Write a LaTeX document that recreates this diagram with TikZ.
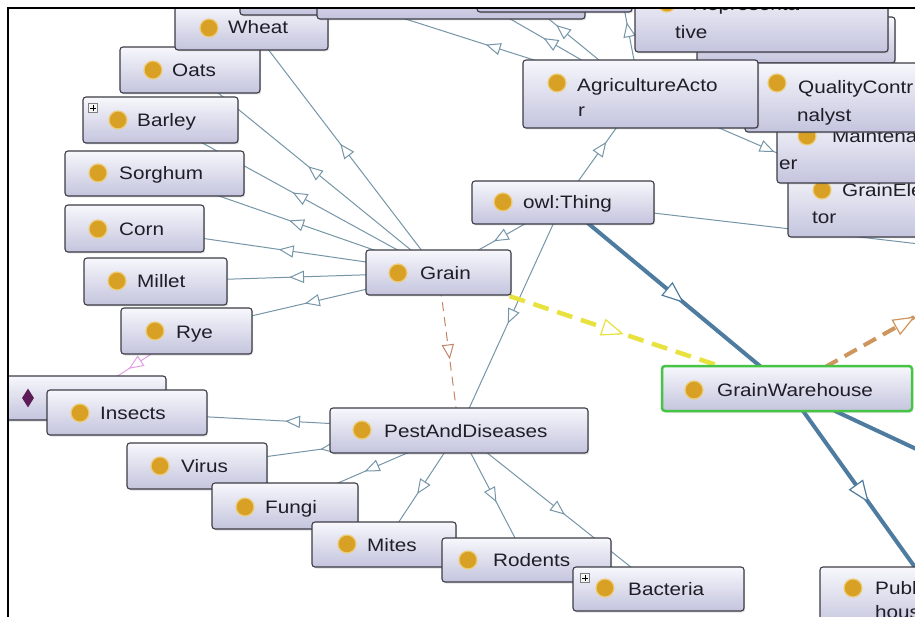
\documentclass[tikz,border=0pt]{standalone}
\usepackage{fontspec}
\setmainfont{Liberation Sans}[FakeStretch=1.15]
\usetikzlibrary{shadows,shapes.geometric,decorations.markings}
\pgfdeclarelayer{background}
\pgfsetlayers{background,main}

\definecolor{boxtop}{RGB}{247,247,252}
\definecolor{boxbot}{RGB}{196,196,222}
\definecolor{boxedge}{RGB}{60,60,70}
\definecolor{edgec}{RGB}{118,150,168}
\definecolor{thickc}{RGB}{78,124,160}
\definecolor{yellc}{RGB}{232,226,62}
\definecolor{orc}{RGB}{206,150,92}
\definecolor{brc}{RGB}{196,132,104}
\definecolor{pkc}{RGB}{226,160,226}
\definecolor{dotc}{RGB}{216,160,36}
\definecolor{dotring}{RGB}{236,204,120}
\definecolor{txtc}{RGB}{30,30,40}
\definecolor{greenc}{RGB}{70,196,70}
\definecolor{diac}{RGB}{92,28,88}

\tikzset{
  cls/.style={draw=boxedge, line width=1.1pt, rounded corners=3pt,
    top color=boxtop, bottom color=boxbot, inner sep=0pt,
    drop shadow={shadow xshift=1.2pt, shadow yshift=-1.5pt, opacity=0.25}},
  sel/.style={cls, draw=greenc, line width=2.5pt},
  dotn/.style={circle, fill=dotc, draw=dotring, line width=1.2pt,
    minimum size=18pt, inner sep=0pt},
  lbl/.style={anchor=base west, inner sep=0pt, text=txtc,
    font=\fontsize{18}{25}\selectfont},
  plusbox/.style={rectangle, draw=gray, fill=white!92!gray, line width=0.6pt,
    minimum size=9pt, inner sep=0pt,
    path picture={
      \draw[black, line width=0.8pt]
        ([xshift=-2.6pt]path picture bounding box.center) --
        ([xshift=2.6pt]path picture bounding box.center)
        ([yshift=-2.6pt]path picture bounding box.center) --
        ([yshift=2.6pt]path picture bounding box.center);}},
  % thin subclass link with an open triangle half way
  thinedge/.style={draw=edgec, line width=1pt,
    postaction={decorate, decoration={markings, mark=at position 0.5 with
      {\draw[edgec, solid, line width=1pt, fill=white]
        (6.5pt,0pt) -- (-6.5pt,5.5pt) -- (-6.5pt,-5.5pt) -- cycle;}}}},
  thickedge/.style={draw=thickc, line width=4pt,
    postaction={decorate, decoration={markings, mark=at position 0.5 with
      {\draw[thickc, solid, line width=1.2pt, fill=white]
        (10pt,0pt) -- (-10pt,8pt) -- (-10pt,-8pt) -- cycle;}}}},
  yelledge/.style={draw=yellc, line width=4.5pt, dash pattern=on 16pt off 9pt,
    postaction={decorate, decoration={markings, mark=at position 0.5 with
      {\draw[yellc, solid, line width=1.2pt, fill=white]
        (10pt,0pt) -- (-10pt,8pt) -- (-10pt,-8pt) -- cycle;}}}},
  oredge/.style={draw=orc, line width=4pt, dash pattern=on 14pt off 8pt,
    postaction={decorate, decoration={markings, mark=at position 0.5 with
      {\draw[orc, solid, line width=1.2pt, fill=white]
        (10pt,0pt) -- (-10pt,8pt) -- (-10pt,-8pt) -- cycle;}}}},
  bredge/.style={draw=brc, line width=1pt, dash pattern=on 9pt off 6pt,
    postaction={decorate, decoration={markings, mark=at position 0.5 with
      {\draw[brc, solid, line width=1pt, fill=white]
        (6.5pt,0pt) -- (-6.5pt,5.5pt) -- (-6.5pt,-5.5pt) -- cycle;}}}},
  pkedge/.style={draw=pkc, line width=1pt,
    postaction={decorate, decoration={markings, mark=at position 0.5 with
      {\draw[pkc, solid, line width=1pt, fill=white]
        (6.5pt,0pt) -- (-6.5pt,5.5pt) -- (-6.5pt,-5.5pt) -- cycle;}}}},
}

\begin{document}
\begin{tikzpicture}[x=1pt, y=-1pt]
\useasboundingbox (0,0) rectangle (915,617);

\begin{scope}
\clip (9,9.2) rectangle (915,617);

% grain family, upper part
\node[cls, minimum width=140pt, minimum height=46pt] (oats) at (190,70) {};
\node[dotn] (oats-d) at (153,70) {};
\node[lbl] (oats-t) at (172,77) {Oats};

\node[cls, minimum width=153pt, minimum height=45pt] (wheat) at (251.5,27.5) {};
\node[dotn] (wheat-d) at (209,28) {};
\node[lbl] (wheat-t) at (228,34) {Wheat};

% classes cut by the top edge
\node[cls, minimum width=240pt, minimum height=55pt] (t1) at (360,-12.5) {};
\node[cls, minimum width=268pt, minimum height=59pt] (t2) at (451,-10.5) {};
\node[cls, minimum width=155pt, minimum height=52pt] (t3) at (554.5,-14) {};

% actor classes
\node[cls, minimum width=198pt, minimum height=46pt] (tb) at (796,40) {};
\node[cls, minimum width=253pt, minimum height=66pt] (tive) at (761.5,19) {};
\node[dotn] (tive-d) at (667,3) {};
\node[lbl] (tive-t1) at (692,10.5) {Representa};
\node[lbl] (tive-t2) at (675,38.5) {tive};

\node[cls, minimum width=212pt, minimum height=67pt] (ge) at (894,203.5) {};
\node[dotn] (ge-d) at (822,190) {};
\node[lbl] (ge-t1) at (842,196.5) {GrainEle};
\node[lbl] (ge-t2) at (812,223.5) {tor};

\node[cls, minimum width=223pt, minimum height=68pt] (maint) at (888.5,149) {};
\node[dotn] (maint-d) at (807,136) {};
\node[lbl] (maint-t1) at (832,143) {Maintena};
\node[lbl] (maint-t2) at (779,169.5) {er};

\node[cls, minimum width=255pt, minimum height=69pt] (qc) at (872.5,97.5) {};
\node[dotn] (qc-d) at (777,83) {};
\node[lbl] (qc-t1) at (798,93.5) {QualityContr};
\node[lbl] (qc-t2) at (797,121.5) {nalyst};

\node[cls, minimum width=235pt, minimum height=68pt] (aga) at (640.5,94) {};
\node[dotn] (aga-d) at (557,83) {};
\node[lbl] (aga-t1) at (577,91.5) {AgricultureActo};
\node[lbl] (aga-t2) at (578,116.5) {r};

% grain family, lower part
\node[cls, minimum width=155pt, minimum height=46pt] (barley) at (160.5,120) {};
\node[plusbox] (barley-p) at (93,108) {};
\node[dotn] (barley-d) at (118,120) {};
\node[lbl] (barley-t) at (137,127) {Barley};

\node[cls, minimum width=179pt, minimum height=45pt] (sorghum) at (154.5,173.5) {};
\node[dotn] (sorghum-d) at (98,173) {};
\node[lbl] (sorghum-t) at (119,180) {Sorghum};

\node[cls, minimum width=139pt, minimum height=47pt] (corn) at (134.5,228.5) {};
\node[dotn] (corn-d) at (98,229) {};
\node[lbl] (corn-t) at (119,235.5) {Corn};

\node[cls, minimum width=143pt, minimum height=47pt] (millet) at (155.5,281.5) {};
\node[dotn] (millet-d) at (117,281) {};
\node[lbl] (millet-t) at (137,288) {Millet};

\node[cls, minimum width=131pt, minimum height=46pt] (rye) at (186.5,331) {};
\node[dotn] (rye-d) at (155,331) {};
\node[lbl] (rye-t) at (176,338.5) {Rye};

\node[cls, minimum width=145pt, minimum height=45pt] (grain) at (438.5,272.5) {};
\node[dotn] (grain-d) at (398,273) {};
\node[lbl] (grain-t) at (420,279.5) {Grain};

\node[cls, minimum width=182pt, minimum height=43pt] (owl) at (563,202.5) {};
\node[dotn] (owl-d) at (503,202) {};
\node[lbl] (owl-t) at (523,209) {owl:Thing};

% individual
\node[cls, minimum width=164pt, minimum height=44pt] (ind) at (84,398) {};
\node[diamond, fill=diac, minimum width=12pt, minimum height=19pt, inner sep=0pt] (ind-d) at (28,398) {};

% pests
\node[cls, minimum width=160pt, minimum height=45pt] (insects) at (127,412.5) {};
\node[dotn] (insects-d) at (80,413) {};
\node[lbl] (insects-t) at (100,419.5) {Insects};

\node[cls, minimum width=258pt, minimum height=45pt] (pad) at (459,430.5) {};
\node[dotn] (pad-d) at (362,430) {};
\node[lbl] (pad-t) at (384,437) {PestAndDiseases};

\node[cls, minimum width=140pt, minimum height=46pt] (virus) at (197,466) {};
\node[dotn] (virus-d) at (160,466) {};
\node[lbl] (virus-t) at (181,472.5) {Virus};

\node[cls, minimum width=146pt, minimum height=46pt] (fungi) at (285,506) {};
\node[dotn] (fungi-d) at (245,507) {};
\node[lbl] (fungi-t) at (265,513.5) {Fungi};

\node[cls, minimum width=144pt, minimum height=45pt] (mites) at (384,544.5) {};
\node[dotn] (mites-d) at (347,544) {};
\node[lbl] (mites-t) at (367,551) {Mites};

\node[cls, minimum width=169pt, minimum height=44pt] (rodents) at (526.5,560) {};
\node[dotn] (rodents-d) at (468,560) {};
\node[lbl] (rodents-t) at (493,566.5) {Rodents};

\node[cls, minimum width=171pt, minimum height=44pt] (bacteria) at (658.5,589) {};
\node[plusbox] (bacteria-p) at (585,578) {};
\node[dotn] (bacteria-d) at (605,588) {};
\node[lbl] (bacteria-t) at (628,595) {Bacteria};

% warehouse
\node[sel, minimum width=250pt, minimum height=45pt] (gw) at (787,388.5) {};
\node[dotn] (gw-d) at (694,390) {};
\node[lbl] (gw-t) at (717,396.5) {GrainWarehouse};

\node[cls, minimum width=234pt, minimum height=62pt] (pub) at (937,598) {};
\node[dotn] (pub-d) at (853,588) {};
\node[lbl] (pub-t1) at (875,594.5) {Publ};
\node[lbl] (pub-t2) at (875,618.5) {hous};
\end{scope}

% free ends of links leaving the view
\coordinate (c1) at (346,0);
\coordinate (c2) at (460,-10);
\coordinate (c3) at (484,-34);
\coordinate (c4) at (616,-34);
\coordinate (owlout) at (1400,300);
\coordinate (gwout) at (1100,535);
\coordinate (orout) at (1023,256);

\begin{pgfonlayer}{background}
\fill[white] (0,0) rectangle (915,617);
\begin{scope}
\clip (9,9.2) rectangle (915,617);
% subclass links of Grain
\foreach \k in {wheat,oats,barley,sorghum,corn,millet,rye}
  \draw[thinedge] (grain.center) -- (\k.center);
% subclass links of PestAndDiseases
\foreach \k in {insects,virus,fungi,mites,rodents,bacteria}
  \draw[thinedge] (pad.center) -- (\k.center);
% links of AgricultureActor
\foreach \k in {c1,c2,c3,c4}
  \draw[thinedge] (aga.center) -- (\k);
\draw[thinedge] (aga.center) -- (ge.center);
% links of owl:Thing
\draw[thinedge] (owl.center) -- (grain.center);
\draw[thinedge] (owl.center) -- (pad.center);
\draw[thinedge] (owl.center) -- (aga.center);
\draw[thinedge] (owl.center) -- (owlout);
\draw[thickedge] (owl.center) -- (gw.center);
% property links
\draw[bredge] (grain.center) -- (pad.center);
\draw[yelledge] (grain.center) -- (gw.center);
\draw[oredge] (gw.center) -- (orout);
\draw[thickedge] (gw.center) -- (pub.center);
\draw[thickedge] (gw.center) -- (gwout);
\draw[pkedge] (rye.center) -- (ind.center);
\end{scope}
\end{pgfonlayer}

% frame
\draw[black, line width=2.5pt] (8,617) -- (8,8) -- (915,8);
\end{tikzpicture}
\end{document}
